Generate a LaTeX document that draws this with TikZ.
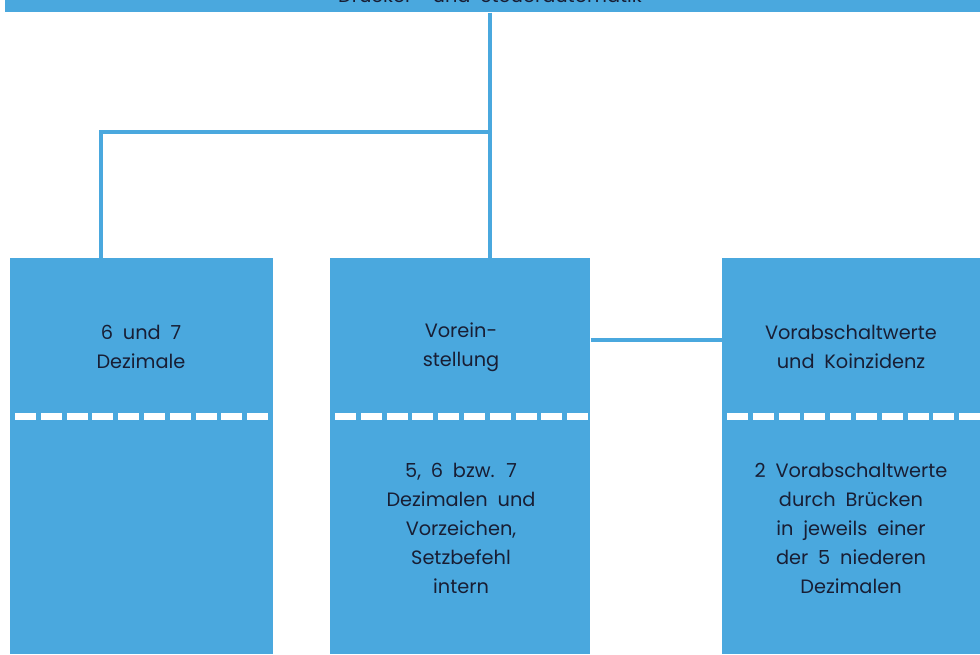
\documentclass[tikz,border=0pt]{standalone}
\usepackage{fontspec}
\setmainfont[WordSpace=1.9]{Poppins}
\definecolor{boxblue}{RGB}{74,168,222}
\definecolor{inkblue}{RGB}{24,30,52}
\tikzset{
  unitbox/.style={fill=boxblue, draw=none, anchor=north west, inner sep=0pt, minimum width=#1*0.75pt, minimum height=297pt},
  link/.style={draw=boxblue, line width=2.8pt},
  cut/.style={draw=white, line width=5.25pt, dash pattern=on 15.75pt off 3.6pt},
  txt/.style={text=inkblue, align=center, font=\fontsize{14.5}{21.75}\selectfont, inner sep=0pt}
}
\begin{document}
\begin{tikzpicture}[x=0.75pt,y=0.75pt,yscale=-1,xscale=1]
\useasboundingbox (0,0) rectangle (980,654);

%Shape: top bar
\node [fill=boxblue, anchor=north west, inner sep=0pt, minimum width=731.25pt, minimum height=9pt] (top) at (5,0) {};
\begin{scope}
\clip (0,0) rectangle (980,654);
\node [txt, anchor=base] (toptxt) at (490,2) {Drucker- und Steuerautomatik};
\end{scope}

%Shape: boxes
\node [unitbox=263] (dez) at (10,258) {};
\node [unitbox=260] (vor) at (330,258) {};
\node [unitbox=258] (koin) at (722,258) {};

%Straight Lines: connectors
\coordinate (knee) at (101,132);
\draw [link] (top.south -| 490,0) -- (490,258);
\draw [link] (490,132) -- (knee) -- (knee |- dez.north);
\draw [link] (vor.east |- 0,340) -- (koin.west |- 0,340);

%Straight Lines: white dash cuts
\draw [cut] (15,416) -- (270,416);
\draw [cut] (335,416) -- (590,416);
\draw [cut] (727,416) -- (985,416);

% Text Node
\node [txt] (dezup) at (141,347) {6 und 7\\Dezimale};
% Text Node
\node [txt] (vorup) at (461,347) {Vorein-\\stellung};
% Text Node
\node [txt] (vorlow) at (461,528) {5, 6 bzw. 7\\Dezimalen und\\Vorzeichen,\\Setzbefehl\\intern};
% Text Node
\node [txt] (koinup) at (851,347) {Vorabschaltwerte\\und Koinzidenz};
% Text Node
\node [txt] (koinlow) at (851,528) {2 Vorabschaltwerte\\durch Brücken\\in jeweils einer\\der 5 niederen\\Dezimalen};

\end{tikzpicture}
\end{document}
